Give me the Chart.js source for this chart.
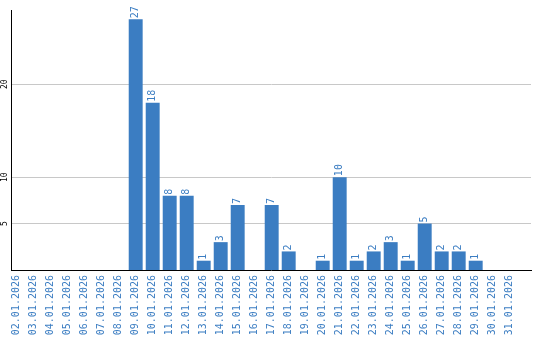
<!DOCTYPE html>
<html lang="en">
<head>
  <meta charset="UTF-8" />
  <title>Daily counts, January 2026</title>
  <script src="https://cdn.jsdelivr.net/npm/chart.js"></script>
  <style>
    html, body { margin: 0; padding: 0; background: #fff; }
    .wrap { width: 540px; height: 340px; position: relative; }
  </style>
</head>
<body>
  <div class="wrap"><canvas id="dayChart"></canvas></div>

  <script>
    const days = [
      "02.01.2026", "03.01.2026", "04.01.2026", "05.01.2026", "06.01.2026", "07.01.2026",
      "08.01.2026", "09.01.2026", "10.01.2026", "11.01.2026", "12.01.2026", "13.01.2026",
      "14.01.2026", "15.01.2026", "16.01.2026", "17.01.2026", "18.01.2026", "19.01.2026",
      "20.01.2026", "21.01.2026", "22.01.2026", "23.01.2026", "24.01.2026", "25.01.2026",
      "26.01.2026", "27.01.2026", "28.01.2026", "29.01.2026", "30.01.2026", "31.01.2026"
    ];
    const counts = [0, 0, 0, 0, 0, 0, 0, 27, 18, 8, 8, 1, 3, 7, 0, 7, 2, 0, 1, 10, 1, 2, 3, 1, 5, 2, 2, 1, 0, 0];
    const yTicks = [5, 10, 20];

    const blue = "#3b7dc2";
    const mono = "'DejaVu Sans Mono', monospace";

    // value above each bar, rotated
    const barValues = {
      id: "barValues",
      afterDatasetsDraw(chart) {
        const ctx = chart.ctx;
        chart.getDatasetMeta(0).data.forEach((bar, i) => {
          if (!counts[i]) return;
          ctx.save();
          ctx.translate(bar.x, bar.y - 1);
          ctx.rotate(-Math.PI / 2);
          ctx.font = "10px " + mono;
          ctx.fillStyle = blue;
          ctx.textAlign = "left";
          ctx.textBaseline = "middle";
          ctx.fillText(String(counts[i]), 0, 0);
          ctx.restore();
        });
      }
    };

    // y tick labels drawn vertically
    const yLabels = {
      id: "yLabels",
      afterDraw(chart) {
        const ctx = chart.ctx;
        const y = chart.scales.y;
        yTicks.forEach((v) => {
          ctx.save();
          ctx.translate(5, y.getPixelForValue(v));
          ctx.rotate(-Math.PI / 2);
          ctx.font = "8px " + mono;
          ctx.fillStyle = "#000";
          ctx.textAlign = "center";
          ctx.textBaseline = "middle";
          ctx.fillText(String(v), 0, 0);
          ctx.restore();
        });
      }
    };

    new Chart(document.getElementById("dayChart"), {
      type: "bar",
      data: {
        datasets: [{
          data: counts.map((v, i) => ({ x: i, y: v })),
          backgroundColor: blue,
          barPercentage: 0.82,
          categoryPercentage: 1
        }]
      },
      options: {
        responsive: true,
        maintainAspectRatio: false,
        animation: false,
        layout: { padding: { top: 10, right: 9, left: 0, bottom: 0 } },
        plugins: {
          legend: { display: false },
          tooltip: { enabled: false }
        },
        scales: {
          x: {
            type: "linear",
            offset: false,
            min: -0.335,
            max: 30.253,
            afterBuildTicks(s) { s.ticks = days.map((d, i) => ({ value: i })); },
            grid: { display: false, drawTicks: false },
            border: { display: true, color: "#000", width: 1 },
            ticks: {
              autoSkip: false,
              minRotation: 90,
              maxRotation: 90,
              padding: 5,
              color: blue,
              font: { family: mono, size: 10 },
              callback: (v) => days[v]
            },
            afterFit(s) { s.height = 70; }
          },
          y: {
            min: 0,
            max: 28,
            afterBuildTicks(s) { s.ticks = yTicks.map((v) => ({ value: v })); },
            grid: { color: "#c8c8c8", drawTicks: false },
            border: { display: true, color: "#000", width: 1 },
            ticks: { display: false },
            afterFit(s) { s.width = 11; }
          }
        }
      },
      plugins: [barValues, yLabels]
    });
  </script>
</body>
</html>
